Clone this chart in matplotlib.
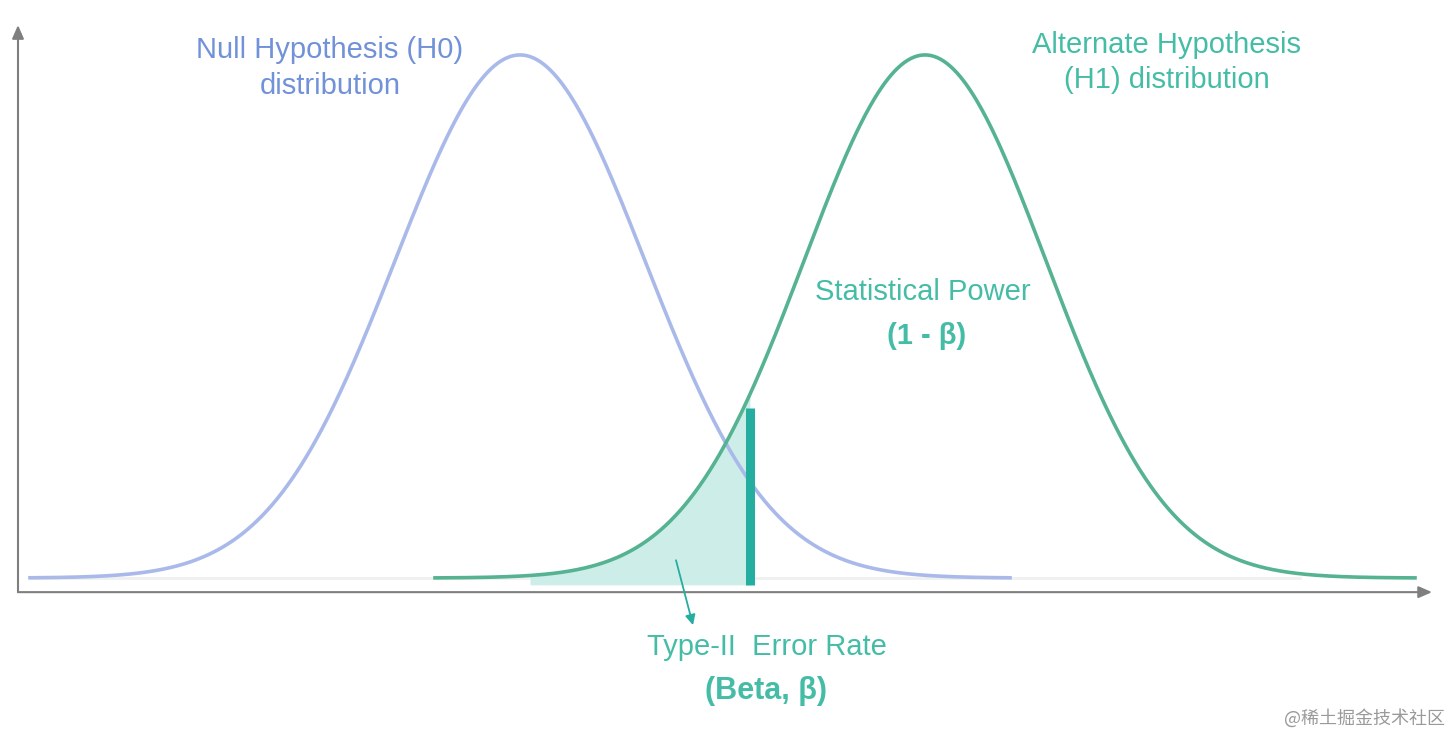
import numpy as np
import matplotlib.pyplot as plt

plt.rcParams['font.family'] = ['Liberation Sans', 'DejaVu Sans']

# Distribution parameters (horizontal units ~ pixels of the original sketch)
h0_mean, h1_mean = 520, 925
h0_sigma, h1_sigma = 125, 121
h0_range = (30, 1010)
h1_range = (435, 1415)
critical_x = 750
beta_fill_start = 530
bar_top = 0.325

h0_color = '#a9b9ea'
h1_color = '#55b391'
teal = '#45bda6'
bar_color = '#25ada0'
fill_color = '#cdeee8'


def bell(x, mu, sigma):
    return np.exp(-0.5 * ((x - mu) / sigma) ** 2)


fig = plt.figure(figsize=(14.52, 7.36), dpi=100)
ax = fig.add_axes([0, 0, 1, 1])
ax.set_xlim(0, 1452)
ax.set_ylim(-0.302, 1.105)
ax.axis('off')

# faint baseline
ax.plot([30, 1300], [0, 0], color='#f0f0f0', lw=2, zorder=0)

# shaded beta region under H1
xf = np.linspace(beta_fill_start, critical_x, 200)
ax.fill_between(xf, -0.013, bell(xf, h1_mean, h1_sigma), color=fill_color, lw=0, zorder=1)

x0 = np.linspace(*h0_range, 600)
x1 = np.linspace(*h1_range, 600)
ax.plot(x0, bell(x0, h0_mean, h0_sigma), color=h0_color, lw=2.6, zorder=2)
ax.plot(x1, bell(x1, h1_mean, h1_sigma), color=h1_color, lw=2.6, zorder=3)

# critical value bar
ax.vlines(critical_x, -0.013, bar_top, color=bar_color, lw=6.5, zorder=4)

# axes with arrows
axis_y = -0.027
arrow = dict(arrowstyle='-|>,head_width=0.35,head_length=0.8', color='#7f7f7f', lw=1.5,
             shrinkA=0, shrinkB=0)
ax.annotate('', xy=(18, 1.057), xytext=(18, axis_y), arrowprops=arrow)
ax.annotate('', xy=(1432, axis_y), xytext=(18, axis_y), arrowprops=arrow)

# labels
ax.text(330, 0.975, 'Null Hypothesis (H0)\ndistribution', color='#7192d8', fontsize=21,
        ha='center', va='center', linespacing=1.32)
ax.text(1167, 0.986, 'Alternate Hypothesis\n(H1) distribution', color=teal, fontsize=21,
        ha='center', va='center', linespacing=1.3)
ax.text(923, 0.547, 'Statistical Power', color=teal, fontsize=21, ha='center', va='center')
ax.text(927, 0.463, '(1 - β)', color=teal, fontsize=21, fontweight='bold',
        ha='center', va='center')
ax.text(767, -0.132, 'Type-II  Error Rate', color=teal, fontsize=21, ha='center', va='center')
ax.text(766, -0.216, '(Beta, β)', color=teal, fontsize=22, fontweight='bold',
        ha='center', va='center')

ax.annotate('', xy=(693, -0.090), xytext=(676, 0.034),
            arrowprops=dict(arrowstyle='-|>,head_width=0.3,head_length=0.6', color=bar_color,
                            lw=1.3, shrinkA=0, shrinkB=0))

fig.text(0.995, 0.024, '@稀土掘金技术社区', color='#9a9a9a', fontsize=13, ha='right',
         va='center', family=['Noto Sans CJK SC', 'DejaVu Sans'])

fig.savefig('out.png', dpi=100, facecolor='white')
